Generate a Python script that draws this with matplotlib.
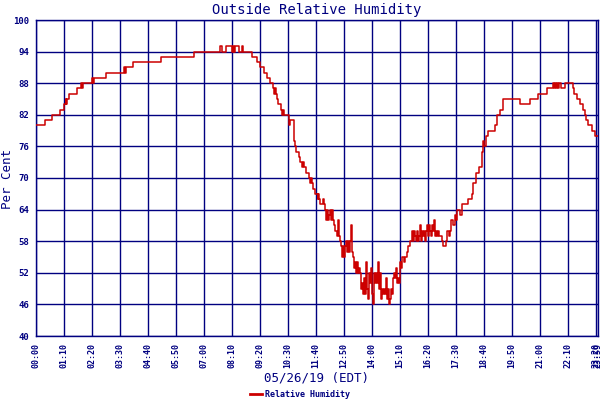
import matplotlib
matplotlib.use('Agg')
import matplotlib.pyplot as plt
from matplotlib.lines import Line2D

# minutes after midnight and relative humidity (%)
minutes = [0, 23, 41, 61, 71, 74, 76, 78, 83, 103, 113, 115, 117, 140, 143, 144,
           176, 221, 223, 225, 243, 312, 395, 461, 466, 476, 490, 493, 495, 498,
           507, 516, 518, 541, 553, 561, 571, 578, 586, 593, 595, 598, 600, 602,
           606, 612, 615, 617, 620, 632, 633, 635, 644, 646, 648, 650, 657, 660,
           665, 668, 670, 674, 683, 685, 688, 690, 692, 698, 704, 706, 708, 710,
           718, 720, 723, 725, 728, 730, 733, 735, 738, 740, 743, 745, 748, 750,
           753, 755, 758, 760, 763, 765, 768, 770, 773, 775, 778, 780, 783, 785,
           788, 790, 793, 795, 798, 800, 803, 805, 808, 810, 813, 815, 818, 820,
           823, 825, 828, 830, 833, 835, 838, 840, 843, 845, 848, 850, 853, 855,
           858, 860, 863, 865, 868, 870, 873, 875, 878, 880, 883, 885, 888, 890,
           893, 895, 898, 900, 903, 905, 908, 910, 913, 915, 920, 923, 928, 930,
           935, 940, 943, 945, 948, 950, 953, 955, 958, 960, 963, 965, 968, 970,
           973, 975, 978, 980, 983, 985, 988, 990, 993, 995, 998, 1000, 1003,
           1005, 1008, 1015, 1018, 1025, 1028, 1033, 1035, 1038, 1043, 1048,
           1050, 1053, 1060, 1065, 1080, 1090, 1093, 1099, 1108, 1114, 1116,
           1118, 1121, 1124, 1131, 1148, 1153, 1160, 1168, 1210, 1235, 1254,
           1277, 1292, 1295, 1298, 1300, 1303, 1305, 1308, 1312, 1323, 1343,
           1345, 1352, 1360, 1367, 1373, 1376, 1381, 1389, 1398, 1405]
humidity = [80, 81, 82, 83, 84, 85, 84, 85, 86, 87, 88, 87, 88, 89, 88, 89,
            90, 91, 90, 91, 92, 93, 94, 95, 94, 95, 94, 95, 94, 95,
            94, 95, 94, 93, 92, 91, 90, 89, 88, 87, 86, 87, 86, 85,
            84, 83, 82, 83, 82, 81, 80, 81, 79, 77, 76, 75, 74, 73,
            72, 73, 72, 71, 70, 69, 70, 69, 68, 67, 66, 67, 66, 65,
            66, 65, 64, 62, 64, 62, 63, 64, 62, 64, 62, 61, 60, 60,
            59, 62, 59, 58, 57, 55, 57, 55, 57, 58, 56, 58, 56, 58,
            61, 56, 55, 53, 54, 52, 54, 52, 53, 52, 49, 50, 48, 51,
            48, 54, 49, 47, 52, 50, 53, 48, 46, 52, 50, 52, 50, 54,
            49, 52, 47, 49, 48, 49, 48, 51, 47, 49, 46, 47, 49, 48,
            51, 52, 51, 53, 50, 51, 50, 54, 53, 55, 54, 55, 56, 57,
            58, 60, 58, 60, 59, 58, 60, 58, 59, 61, 58, 60, 59, 60,
            58, 60, 61, 59, 61, 60, 59, 61, 60, 62, 59, 60, 59,
            60, 59, 58, 57, 58, 60, 59, 60, 62, 61, 63,
            62, 64, 63, 65, 66, 67, 69, 71, 72, 74, 75,
            77, 76, 78, 79, 80, 82, 83, 85, 84, 85, 86,
            87, 88, 87, 88, 87, 88, 87, 88, 87, 88, 87,
            86, 85, 84, 83, 82, 81, 80, 79, 78, 78]

tick_pos = [0, 70, 140, 210, 280, 350, 420, 490, 560, 630, 700, 770, 840,
            910, 980, 1050, 1120, 1190, 1260, 1330, 1400, 1405]
tick_labels = ['00:00', '01:10', '02:20', '03:30', '04:40', '05:50', '07:00',
               '08:10', '09:20', '10:30', '11:40', '12:50', '14:00', '15:10',
               '16:20', '17:30', '18:40', '19:50', '21:00', '22:10', '23:20',
               '23:59']
y_ticks = [40, 46, 52, 58, 64, 70, 76, 82, 88, 94, 100]

navy = '#000080'
red = '#CC0000'
mono = 'DejaVu Sans Mono'

fig = plt.figure(figsize=(6, 4), dpi=100)
ax = fig.add_axes([0.06, 0.16, 0.9367, 0.79])

ax.plot(minutes, humidity, color=red, lw=1.1, drawstyle='steps-post', zorder=3)

ax.set_xlim(0, 1405)
ax.set_ylim(40, 100)
ax.set_xticks(tick_pos)
ax.set_xticklabels(tick_labels, rotation=90, fontsize=6, family=mono,
                   fontweight='bold', color=navy)
ax.set_yticks(y_ticks)
ax.set_yticklabels([str(v) for v in y_ticks], fontsize=6.5, family=mono,
                   fontweight='bold', color=navy)
ax.tick_params(length=0, pad=5)
ax.grid(True, color=navy, lw=1.0)
for s in ax.spines.values():
    s.set_color(navy)
    s.set_linewidth(1.0)

ax.set_title('Outside Relative Humidity', fontsize=10, family=mono,
             color=navy, pad=4)
fig.text(0.013, 0.552, 'Per Cent', rotation=90, fontsize=9, family=mono,
         color=navy, ha='center', va='center')
fig.text(0.528, 0.055, '05/26/19 (EDT)', fontsize=9, family=mono,
         color=navy, ha='center', va='center')

handle = Line2D([], [], color=red, lw=2)
fig.legend([handle], ['Relative Humidity'], loc='center',
           bbox_to_anchor=(0.5, 0.013), frameon=False, handlelength=1.4,
           handletextpad=0.3, borderpad=0, borderaxespad=0,
           prop={'family': mono, 'size': 6, 'weight': 'bold'},
           labelcolor=navy)

fig.savefig('out.png', dpi=100)
